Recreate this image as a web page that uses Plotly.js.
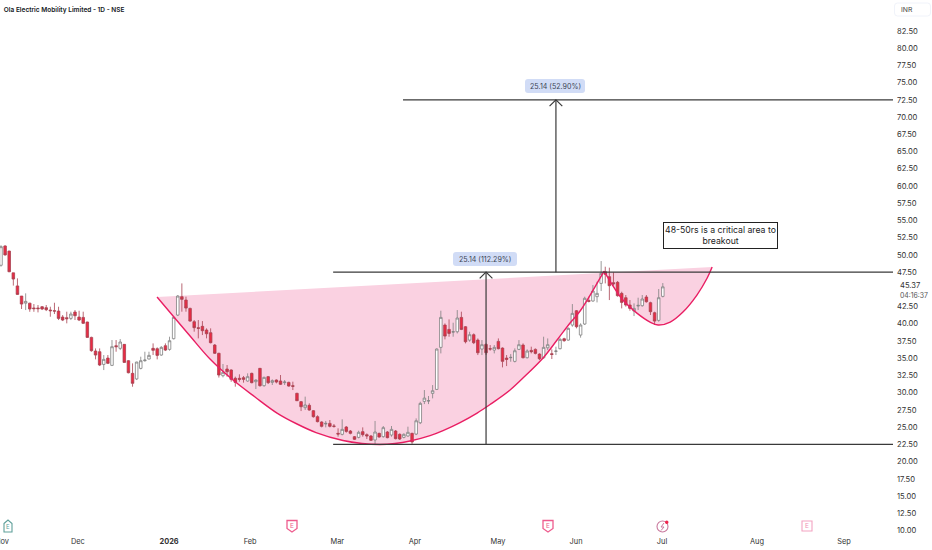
<!DOCTYPE html>
<html><head><meta charset="utf-8">
<script src="https://cdn.plot.ly/plotly-3.0.1.min.js"></script>
<style>html,body{margin:0;padding:0;background:#fff}#c{width:932px;height:550px}</style>
</head><body><div id="c"></div>
<script>
const opens=[48.5,51.3,50.56,47.4,45.5,44.03,43.0,43.0,42.3,42.3,
42.48,42.34,42.0,41.9,41.85,40.98,40.89,40.79,41.71,40.98,
40.93,40.26,38.03,36.05,35.95,34.11,35.03,33.97,36.82,36.44,
37.02,34.65,32.81,32.0,33.53,34.65,34.89,36.44,36.39,35.47,
36.82,36.29,37.84,41.27,43.94,43.45,42.24,40.31,39.44,39.63,
39.1,38.71,36.92,35.72,32.47,33.44,33.3,32.09,32.09,32.18,
31.7,32.81,31.6,33.54,31.02,32.33,31.5,31.84,31.7,31.46,
31.5,31.02,29.91,28.7,27.83,28.17,27.39,26.52,25.75,25.46,
25.55,25.17,24.1,23.96,25.02,24.44,23.62,23.52,24.35,23.91,
23.72,23.14,24.1,23.62,24.3,23.86,24.44,23.96,23.52,23.72,
24.1,24.0,25.64,28.74,28.8,29.9,30.48,36.58,39.82,39.19,
38.8,38.85,40.93,39.58,37.64,38.42,37.64,36.34,37.01,36.39,
36.19,37.45,36.48,35.03,35.08,34.55,36.29,36.92,35.08,36.14,
36.29,35.61,35.08,36.53,35.66,36.0,36.39,37.84,37.64,39.82,
41.9,38.37,39.97,43.4,43.31,43.94,45.87,47.57,46.84,45.97,
46.02,44.42,43.79,42.73,41.86,42.58,42.63,43.89,43.07,41.61,
40.5,43.98];
const highs=[51.4,51.4,50.6,47.4,46.6,44.03,44.42,43.05,42.87,42.73,
42.58,42.73,42.48,43.06,42.48,41.27,41.76,41.76,42.0,41.9,
41.76,40.3,38.13,36.43,36.43,35.47,35.47,37.65,37.65,37.79,
37.07,34.74,34.26,34.5,35.23,35.95,35.95,37.16,36.58,36.77,
37.16,38.13,41.13,44.18,45.87,43.94,42.34,40.55,40.55,40.4,
39.34,39.34,37.07,35.8,34.17,34.02,33.4,32.33,32.67,32.43,
32.81,32.91,31.94,33.59,32.33,32.43,31.94,31.94,32.57,31.84,
31.6,31.6,30.0,28.8,29.43,28.46,27.49,26.72,25.85,25.9,
26.04,25.46,24.83,26.14,25.17,24.59,23.72,24.49,24.97,24.1,
23.86,25.9,24.2,25.17,24.44,25.17,24.59,24.1,24.1,25.07,
24.2,26.27,28.69,30.39,29.52,31.11,36.43,41.9,40.06,40.64,
40.16,42.0,41.76,39.67,38.85,38.61,37.88,37.64,37.16,36.92,
36.92,37.88,36.58,35.47,35.61,36.43,37.64,37.16,36.29,36.68,
36.43,35.71,38.13,37.88,36.29,36.68,37.98,37.98,39.48,42.87,
42.0,40.07,43.94,43.94,45.63,46.11,49.11,48.29,48.15,47.47,
46.21,44.66,44.18,43.45,42.97,43.79,44.18,44.18,43.21,41.76,
45.05,45.92];
const lows=[48.3,49.9,47.5,45.55,44.2,42.15,42.0,41.75,41.75,41.66,
42.0,41.85,41.03,41.42,40.55,40.4,40.07,40.55,40.55,40.4,
39.97,38.0,35.95,34.84,33.87,33.29,34.16,33.87,35.95,36.19,
34.36,32.81,30.87,31.84,33.39,34.5,34.84,35.47,34.84,35.37,
36.05,36.1,37.74,41.13,41.76,41.76,40.31,38.86,37.89,38.37,
37.89,37.16,35.62,32.2,32.23,32.33,31.6,30.88,31.6,31.46,
31.6,31.36,30.54,30.88,30.88,31.26,31.12,31.36,31.12,31.12,
30.88,30.39,28.8,27.34,27.49,27.39,26.38,25.7,24.97,24.97,
24.97,24.93,23.62,23.81,24.2,23.96,23.14,23.38,23.62,23.28,
23.0,22.41,23.48,23.48,23.38,23.62,23.23,23.14,23.38,23.62,
22.56,23.85,25.45,28.35,28.35,29.18,30.39,35.71,37.74,38.13,
38.13,38.61,39.09,37.16,37.4,37.06,35.47,35.47,35.47,36.1,
35.71,36.29,33.68,33.87,34.5,34.4,36.19,34.98,34.98,35.71,
35.56,34.74,34.93,36.19,34.89,35.47,36.29,37.4,37.55,39.58,
39.34,37.99,39.83,43.11,43.21,43.11,44.76,45.87,43.45,45.53,
43.94,42.24,42.49,41.9,41.13,42.0,42.49,43.07,41.28,39.83,
40.31,43.84];
const closes=[51.2,50.0,47.56,46.5,44.27,42.87,43.26,42.15,42.2,42.2,
42.15,42.05,41.9,41.85,40.79,40.55,40.74,41.42,41.18,40.55,
40.07,38.03,36.1,35.47,34.02,34.84,34.26,36.68,36.68,37.36,
34.4,32.9,31.36,34.45,34.65,34.74,35.42,36.15,35.42,36.58,
36.19,37.55,40.94,44.03,43.55,42.29,40.4,39.44,39.34,39.0,
38.56,37.26,35.72,32.57,32.96,33.05,31.94,31.5,31.94,31.94,
32.33,31.46,31.84,31.02,32.23,31.46,31.75,31.55,31.22,31.55,
30.97,30.93,28.84,27.97,28.22,27.49,26.52,25.8,25.12,25.55,
25.12,25.12,24.0,24.68,24.39,24.1,23.23,24.25,23.91,23.72,
23.09,24.3,23.57,24.93,23.48,24.68,23.33,23.28,23.96,24.25,
22.85,25.93,28.45,29.22,28.84,30.29,36.34,40.93,38.22,38.61,
38.85,40.84,39.19,37.4,38.42,37.26,35.8,36.97,35.8,36.34,
36.58,36.39,34.55,34.84,35.13,36.09,36.97,35.08,36.05,35.95,
35.71,34.93,36.58,36.97,35.56,36.05,37.74,37.55,39.34,41.51,
39.58,39.83,43.7,43.26,44.76,44.42,47.32,47.18,45.53,45.82,
44.08,43.11,42.73,42.24,42.24,42.68,43.6,43.21,41.76,40.4,
43.79,45.37];
const barIndex=opens.map((_,i)=>i);

const cupX=[37.96,45.99,50.85,56.45,61.8,67.15,72.02,76.64,83.21,87.83,92.21,95.86,99.51,104.38,107.54,111.68,115.82,118.98,123.84,127.49,131.87,135.28,138.44,140.88,146.7];
const cupY=[43.89,38.23,34.89,31.84,29.38,27.05,25.46,24.22,23.06,22.63,22.48,22.63,23.0,23.78,24.51,25.67,27.05,28.29,30.39,32.42,35.04,37.65,40.12,41.86,47.66];
const handleX=[146.7,151.3,154.7,157.9,159.85,162.8,165.9,169.3,171.8,173.0];
const handleY=[47.66,43.45,41.56,40.26,39.83,40.26,41.71,44.18,46.65,48.24];

const levelPrices=[72.5,47.5,22.5];
const levelStarts=[97.8,80.8,80.8];
const axisEnd=217;
const arrowXs=[118.0,135.0];
const arrowFrom=[22.5,47.5];
const arrowTo=[47.5,72.5];

const priceTicks=[10,12.5,15,17.5,20,22.5,25,27.5,30,32.5,35,37.5,40,42.5,47.5,50,52.5,55,57.5,60,62.5,65,67.5,70,72.5,75,77.5,80,82.5];
const timeTickVals=[18.7,40.9,60.6,81.8,100.7,120.9,139.9,160.8,183.9,205.1];
const timeTickText=['Dec','<b>2026</b>','Feb','Mar','Apr','May','Jun','Jul','Aug','Sep'];

const W=893,H=535,F='Inter, "Noto Sans", sans-serif';
const px=x=>x/W, py=y=>1-y/H;
function pill(cx,cy,w,h,r){const l=cx-w/2,R=cx+w/2,t=cy-h/2,b=cy+h/2;
 const P=(x,y)=>px(x)+' '+py(y);
 return 'M'+P(l+r,t)+' L'+P(R-r,t)+' Q'+P(R,t)+' '+P(R,t+r)+' L'+P(R,b-r)+' Q'+P(R,b)+' '+P(R-r,b)+' L'+P(l+r,b)+' Q'+P(l,b)+' '+P(l,b-r)+' L'+P(l,t+r)+' Q'+P(l,t)+' '+P(l+r,t)+' Z';}
function poly(pts,close){return pts.map((p,i)=>(i?'L':'M')+px(p[0])+' '+py(p[1])).join(' ')+(close?' Z':'');}
function paperShape(path,line,fill,w){return {type:'path',xref:'paper',yref:'paper',path,line:{color:line,width:w||1},fillcolor:fill||'rgba(0,0,0,0)',layer:'above'};}

const cupPath=cupX.concat(handleX.slice(1)).map((x,i)=>(i?'L':'M')+x+' '+cupY.concat(handleY.slice(1))[i]).join(' ')+' Z';

const shapes=[
 {type:'path',xref:'x',yref:'y',path:cupPath,fillcolor:'#fad1e1',line:{width:0},layer:'below'},
 paperShape(pill(555,86,60,14,3),'rgba(0,0,0,0)','#d1dcf6',0),
 paperShape(pill(485,259,64,14,3),'rgba(0,0,0,0)','#d1dcf6',0),
 paperShape(pill(912.5,9.5,36,13,3),'#f0f3fa','#ffffff',1),
 paperShape(poly([[4,523.5],[8,520],[12,523.5],[12,532],[4,532]],true),'#5f9f9a','#fff',1.1),
 paperShape(poly([[287,520.5],[297,520.5],[297,528.5],[292,532],[287,528.5]],true),'#ee5c8e','#fff',1.3),
 paperShape(poly([[543,520.5],[553,520.5],[553,528.5],[548,532],[543,528.5]],true),'#ee5c8e','#fff',1.3),
 paperShape(poly([[802,521],[812,521],[812,531],[802,531]],true),'#f3a3c2','#fff',1.1),
 {type:'circle',xref:'paper',yref:'paper',x0:px(657),x1:px(668),y0:py(532),y1:py(521),line:{color:'#c97a9e',width:1.1},fillcolor:'#fff',layer:'above'},
 paperShape(poly([[664,523],[661,527],[664,527],[661,530.5]],false),'#c97a9e','rgba(0,0,0,0)',1),
 {type:'circle',xref:'paper',yref:'paper',x0:px(665),x1:px(668.5),y0:py(524),y1:py(520.5),line:{width:0},fillcolor:'#f0244c',layer:'above'}
];

function ann(x,y,text,size,color,extra){return Object.assign({xref:'paper',yref:'paper',x:px(x),y:py(y),text,showarrow:false,xanchor:'center',yanchor:'middle',font:{family:F,size,color}},extra||{});}

const annotations=[
 ann(555,86,'25.14 (52.90%)',7.1,'#3c4454'),
 ann(485,259,'25.14 (112.29%)',7.1,'#3c4454'),
 {xref:'paper',yref:'paper',x:px(720.3),y:py(235.8),text:'48-50rs is a critical area to<br>breakout',showarrow:false,align:'center',xanchor:'center',yanchor:'middle',width:113,height:25,bgcolor:'#fff',bordercolor:'#222',borderwidth:1,borderpad:0,font:{family:F,size:8.7,color:'#222'}},
 ann(899,9.5,'INR',6.8,'#444',{xanchor:'left'}),
 ann(898,285,'45.37',7.6,'#333',{xanchor:'left'}),
 ann(898,295,'04:16:37',6.9,'#555',{xanchor:'left'}),
 ann(8,526.5,'E',6,'#5f9f9a'),
 ann(292,526,'E',6.5,'#ee5c8e'),
 ann(548,526,'E',6.5,'#ee5c8e'),
 ann(807,526,'E',6.5,'#f08fb5'),
 ann(2,541.5,'Nov',7.4,'#333')
];

const lineBlack={color:'#3a3a3a',width:1.2};
const data=[
 {type:'candlestick',x:barIndex,open:opens,high:highs,low:lows,close:closes,hoverinfo:'skip',whiskerwidth:0,
  increasing:{fillcolor:'#ffffff',line:{color:'#808080',width:0.8}},
  decreasing:{fillcolor:'#ea2a43',line:{color:'#a84352',width:0.8}}},
 {type:'scatter',mode:'lines',x:cupX,y:cupY,line:{color:'#e91e63',width:1.4,shape:'spline',smoothing:1},hoverinfo:'skip'},
 {type:'scatter',mode:'lines',x:handleX,y:handleY,line:{color:'#e91e63',width:1.4,shape:'spline',smoothing:1},hoverinfo:'skip'},
];
levelPrices.forEach((p,i)=>data.push({type:'scatter',mode:'lines',x:[levelStarts[i],axisEnd],y:[p,p],line:lineBlack,hoverinfo:'skip'}));
arrowXs.forEach((x,i)=>data.push({type:'scatter',mode:'lines',
  x:[x,x,null,x-1.55,x,x+1.55],y:[arrowFrom[i],arrowTo[i],null,arrowTo[i]-0.9,arrowTo[i],arrowTo[i]-0.9],line:lineBlack,hoverinfo:'skip'}));

const layout={
 width:932,height:550,paper_bgcolor:'#fff',plot_bgcolor:'#fff',showlegend:false,
 margin:{l:0,r:39,t:0,b:15,pad:0},boxgap:0.12,
 title:{text:'Ola Electric Mobility Limited - 1D - NSE',x:4/932,xanchor:'left',xref:'paper',y:1-9.5/550,yanchor:'middle',font:{family:F,size:6.5,color:'#131722',weight:600}},
 xaxis:{range:[-0.243,217],tickmode:'array',tickvals:timeTickVals,ticktext:timeTickText,showgrid:false,zeroline:false,showline:false,ticks:'',ticklen:0,ticklabelstandoff:1,
  rangeslider:{visible:false},tickfont:{family:F,size:7.4,color:'#333'},tickangle:0,automargin:false,fixedrange:true},
 yaxis:{side:'right',range:[9.35,87.0],tickmode:'array',tickvals:priceTicks,tickformat:'.2f',showgrid:false,zeroline:false,showline:false,ticks:'',ticklabelstandoff:3,
  tickfont:{family:F,size:7.6,color:'#333'},automargin:false,fixedrange:true},
 shapes,annotations,dragmode:false,hovermode:false
};
Plotly.newPlot('c',data,layout,{staticPlot:true,displayModeBar:false});
</script></body></html>
